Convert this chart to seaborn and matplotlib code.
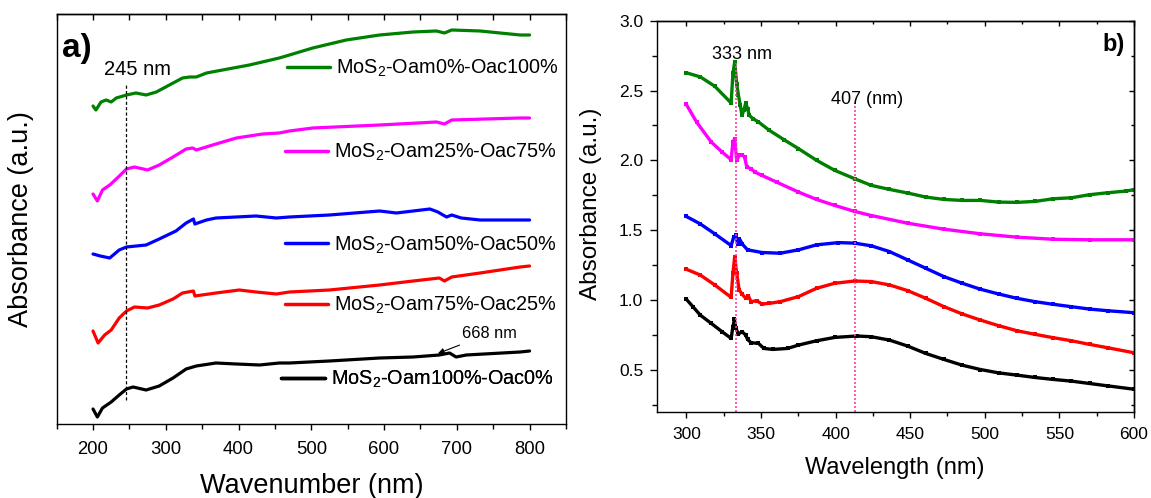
import numpy as np
import pandas as pd
import matplotlib
matplotlib.use("Agg")
import matplotlib.pyplot as plt
import seaborn as sns
from matplotlib.lines import Line2D
from matplotlib.ticker import MultipleLocator, FormatStrFormatter

# ---------------- data: panel a ----------------
a_labels = ["MoS$_2$-Oam0%-Oac100%", "MoS$_2$-Oam25%-Oac75%", "MoS$_2$-Oam50%-Oac50%",
            "MoS$_2$-Oam75%-Oac25%", "MoS$_2$-Oam100%-Oac0%"]
colors = ["#008000", "#FF00FF", "#0000FF", "#FF0000", "#000000"]

a_green_x = [200, 204, 211, 218, 225, 232, 246, 259, 273, 287, 305, 323, 333, 342, 356, 378, 415, 456, 470,
             502, 548, 594, 640, 672, 683, 693, 732, 787, 800]
a_green_y = [3.18, 3.14, 3.22, 3.24, 3.22, 3.26, 3.29, 3.31, 3.29, 3.32, 3.39, 3.46, 3.47, 3.47, 3.51, 3.54,
             3.59, 3.66, 3.69, 3.76, 3.84, 3.89, 3.92, 3.93, 3.91, 3.94, 3.93, 3.89, 3.89]
a_mag_x = [200, 206, 213, 223, 232, 246, 257, 275, 291, 310, 328, 337, 342, 369, 397, 433, 456, 470, 502,
           594, 672, 683, 693, 787, 800]
a_mag_y = [2.30, 2.23, 2.34, 2.39, 2.45, 2.55, 2.57, 2.54, 2.59, 2.67, 2.75, 2.76, 2.74, 2.80, 2.86, 2.90,
           2.91, 2.93, 2.96, 2.99, 3.02, 3.00, 3.04, 3.06, 3.06]
a_blue_x = [200, 210, 223, 236, 246, 273, 291, 314, 328, 338, 340, 356, 369, 397, 424, 452, 470, 525, 594,
            617, 663, 674, 681, 686, 693, 706, 732, 800]
a_blue_y = [1.70, 1.68, 1.66, 1.74, 1.77, 1.79, 1.85, 1.93, 2.01, 2.05, 2.00, 2.04, 2.06, 2.07, 2.08, 2.06,
            2.07, 2.09, 2.13, 2.11, 2.15, 2.12, 2.09, 2.07, 2.09, 2.06, 2.04, 2.04]
a_red_x = [200, 207, 216, 225, 236, 246, 257, 275, 291, 310, 323, 338, 340, 369, 401, 424, 452, 470, 525,
           594, 640, 676, 683, 693, 732, 787, 800]
a_red_y = [0.93, 0.81, 0.89, 0.94, 1.06, 1.13, 1.17, 1.16, 1.19, 1.25, 1.31, 1.33, 1.28, 1.31, 1.34, 1.32,
           1.30, 1.32, 1.34, 1.39, 1.43, 1.46, 1.43, 1.47, 1.51, 1.57, 1.58]
a_black_x = [200, 206, 213, 225, 236, 246, 255, 273, 291, 310, 328, 342, 369, 397, 429, 456, 470, 525, 594,
             640, 676, 690, 699, 713, 787, 800]
a_black_y = [0.15, 0.07, 0.16, 0.22, 0.29, 0.35, 0.37, 0.34, 0.38, 0.46, 0.55, 0.58, 0.61, 0.60, 0.59, 0.61,
             0.61, 0.63, 0.66, 0.67, 0.69, 0.71, 0.67, 0.69, 0.72, 0.73]

# ---------------- data: panel b ----------------
b_green_x = [300, 309.3, 319, 330, 331.2, 332.4, 333.7, 334.9, 336.1, 337.3, 338.5, 339.8, 341, 342.2, 344.6,
             348.3, 355.6, 365.4, 375.1, 387.3, 399.5, 412.9, 423.9, 436.1, 448.3, 460.5, 472.7, 484.9, 497.1,
             509.3, 521.5, 533.7, 545.9, 558.1, 570.2, 582.4, 594.6, 600]
b_green_y = [2.627, 2.598, 2.531, 2.411, 2.622, 2.706, 2.55, 2.467, 2.395, 2.323, 2.359, 2.411, 2.371, 2.323,
             2.299, 2.275, 2.215, 2.148, 2.084, 2.0, 1.928, 1.868, 1.821, 1.792, 1.766, 1.737, 1.72, 1.713,
             1.713, 1.701, 1.699, 1.706, 1.725, 1.732, 1.754, 1.768, 1.78, 1.79]
b_mag_x = [300, 306.8, 316.6, 323.9, 330, 331.2, 332.4, 333.7, 335.4, 337.3, 339, 340.5, 343.4, 345.9, 350.7,
           360.5, 375.1, 387.3, 399.5, 412.9, 423.9, 448.3, 472.7, 497.1, 521.5, 545.9, 570.2, 600]
b_mag_y = [2.40, 2.275, 2.132, 2.06, 2.005, 2.132, 2.156, 2.0, 2.036, 2.041, 2.024, 1.952, 1.94, 1.916, 1.892,
           1.844, 1.773, 1.72, 1.677, 1.634, 1.605, 1.55, 1.507, 1.474, 1.45, 1.435, 1.431, 1.431]
b_blue_x = [300, 309.3, 319, 330, 331.7, 333.2, 334.4, 335.6, 337.5, 341, 350.7, 362.9, 375.1, 387.3, 401.9,
            412.9, 423.9, 436.1, 448.3, 460.5, 472.7, 484.9, 497.1, 509.3, 521.5, 533.7, 545.9, 558.1, 570.2,
            582.4, 600]
b_blue_y = [1.598, 1.545, 1.474, 1.39, 1.45, 1.462, 1.40, 1.438, 1.40, 1.359, 1.34, 1.335, 1.359, 1.395, 1.411,
            1.407, 1.388, 1.347, 1.287, 1.227, 1.167, 1.12, 1.077, 1.043, 1.012, 0.988, 0.969, 0.952, 0.935,
            0.923, 0.909]
b_red_x = [300, 309.3, 319, 330, 331.2, 332.4, 333.7, 335.4, 337.3, 339.8, 341.5, 343.4, 347.1, 350.7, 355.6,
           362.9, 375.1, 387.3, 399.5, 412.9, 423.9, 436.1, 448.3, 460.5, 472.7, 484.9, 497.1, 509.3, 521.5,
           533.7, 545.9, 558.1, 570.2, 582.4, 600]
b_red_y = [1.22, 1.179, 1.108, 1.019, 1.191, 1.311, 1.191, 1.072, 1.043, 1.012, 1.029, 0.988, 0.995, 0.971,
           0.976, 0.988, 1.024, 1.084, 1.12, 1.136, 1.132, 1.108, 1.067, 1.012, 0.952, 0.90, 0.856, 0.816,
           0.78, 0.754, 0.73, 0.708, 0.682, 0.658, 0.622]
b_black_x = [300, 304.4, 309.3, 316.6, 323.9, 330, 331.2, 332.2, 333.2, 334.9, 337.3, 339.8, 341, 343.4, 348.3,
             352, 358, 367.8, 375.1, 387.3, 399.5, 414.1, 423.9, 436.1, 448.3, 460.5, 472.7, 484.9, 497.1,
             509.3, 521.5, 533.7, 545.9, 558.1, 570.2, 582.4, 600]
b_black_y = [1.005, 0.952, 0.892, 0.833, 0.773, 0.725, 0.809, 0.861, 0.797, 0.756, 0.773, 0.749, 0.718, 0.694,
             0.689, 0.653, 0.646, 0.653, 0.677, 0.708, 0.732, 0.742, 0.737, 0.713, 0.670, 0.617, 0.574, 0.533,
             0.502, 0.478, 0.462, 0.445, 0.431, 0.419, 0.402, 0.385, 0.361]

# ---------------- style ----------------
sns.set_theme(style="ticks")
plt.rcParams["font.family"] = ["Liberation Sans", "DejaVu Sans"]
plt.rcParams["mathtext.fontset"] = "custom"
plt.rcParams["mathtext.rm"] = "Liberation Sans"
plt.rcParams["mathtext.it"] = "Liberation Sans:italic"
plt.rcParams["mathtext.bf"] = "Liberation Sans:bold"
plt.rcParams["axes.linewidth"] = 1.0
plt.rcParams["axes.edgecolor"] = "black"
plt.rcParams["text.color"] = "black"
plt.rcParams["axes.labelcolor"] = "black"
plt.rcParams["xtick.color"] = "black"
plt.rcParams["ytick.color"] = "black"

fig = plt.figure(figsize=(11.51, 4.98), dpi=100)
ax1 = fig.add_axes([0.0492, 0.1486, 0.4425, 0.8233])
ax2 = fig.add_axes([0.5704, 0.1733, 0.4148, 0.7851])

# ---------------- panel a ----------------
a_series = [(a_green_x, a_green_y), (a_mag_x, a_mag_y), (a_blue_x, a_blue_y),
            (a_red_x, a_red_y), (a_black_x, a_black_y)]
for (xs, ys), c in zip(a_series, colors):
    sns.lineplot(x=xs, y=ys, ax=ax1, color=c, lw=2.3, sort=False)

ax1.set_xlim(150, 850)
ax1.set_ylim(0, 4.10)
ax1.set_yticks([])
ax1.xaxis.set_major_locator(MultipleLocator(100))
ax1.xaxis.set_minor_locator(MultipleLocator(50))
ax1.tick_params(axis="x", which="major", direction="out", length=4.3, width=1, labelsize=13.3, pad=8,
                bottom=True, top=False)
ax1.tick_params(axis="x", which="minor", direction="out", length=3.5, width=1, bottom=True, top=False)
for s in ax1.spines.values():
    s.set_visible(True)
    s.set_color("black")
sec1 = ax1.secondary_xaxis("top")
sec1.xaxis.set_major_locator(MultipleLocator(50))
sec1.tick_params(axis="x", which="major", direction="in", length=4.5, width=1, labeltop=False)
sec1.tick_params(axis="x", which="minor", length=0)

ax1.set_xlabel("Wavenumber (nm)", fontsize=19.5)
ax1.xaxis.set_label_coords(0.5, -0.1195)
ax1.xaxis.label.set_va("top")
ax1.set_ylabel("Absorbance (a.u.)", fontsize=19.5)
ax1.yaxis.set_label_coords(-0.044, 0.5)

ax1.vlines(246, 0.24, 3.39, colors="black", linestyles=(0, (2.5, 1.8)), lw=0.9)
ax1.text(215.7, 3.547, "245 nm", fontsize=14.5, ha="left", va="center")
ax1.annotate("668 nm", xy=(674, 0.705), xytext=(707.7, 0.907), fontsize=11.8, ha="left", va="center",
             arrowprops=dict(arrowstyle="-|>", color="black", lw=0.8, mutation_scale=9,
                             shrinkA=2, shrinkB=0))
ax1.text(0.01, 0.916, "a)", transform=ax1.transAxes, fontsize=24, fontweight="bold", ha="left", va="center")

leg_pos = [(0.4517, 0.867), (0.448, 0.662), (0.448, 0.4366), (0.448, 0.2885), (0.4415, 0.1085)]
for lab, c, (hx, hy) in zip(a_labels, colors, leg_pos):
    h = Line2D([], [], color=c, lw=2.5)
    leg = ax1.legend([h], [lab], loc="center left", bbox_to_anchor=(hx, hy), frameon=False, fontsize=14.3,
                     handlelength=2.2, handletextpad=0.3, borderpad=0, borderaxespad=0)
    ax1.add_artist(leg)

# ---------------- panel b ----------------
b_series = [(b_green_x, b_green_y), (b_mag_x, b_mag_y), (b_blue_x, b_blue_y),
            (b_red_x, b_red_y), (b_black_x, b_black_y)]
for (xs, ys), c in zip(b_series, colors):
    sns.lineplot(x=xs, y=ys, ax=ax2, color=c, lw=2.4, sort=False, marker="s", markersize=3.4,
                 markeredgewidth=0, markerfacecolor=c)

ax2.vlines([333.2], 0.2, 2.70, colors="#FF40A8", linestyles=(0, (1.2, 1.2)), lw=1.2)
ax2.vlines([413.0], 0.2, 2.41, colors="#FF40A8", linestyles=(0, (1.2, 1.2)), lw=1.2)
ax2.text(317, 2.761, "333 nm", fontsize=13, ha="left", va="center")
ax2.text(397.1, 2.435, "407 (nm)", fontsize=13, ha="left", va="center")
ax2.text(0.957, 0.938, "b)", transform=ax2.transAxes, fontsize=17, fontweight="bold", ha="center", va="center")

ax2.set_xlim(280, 600)
ax2.set_ylim(0.2, 3.0)
ax2.xaxis.set_major_locator(MultipleLocator(50))
ax2.xaxis.set_minor_locator(MultipleLocator(25))
ax2.yaxis.set_major_locator(MultipleLocator(0.5))
ax2.yaxis.set_minor_locator(MultipleLocator(0.25))
ax2.tick_params(axis="x", which="major", direction="out", length=4, width=1, labelsize=12.5, pad=7,
                bottom=True, top=False)
ax2.tick_params(axis="x", which="minor", direction="out", length=2.6, width=1, bottom=True, top=False)
ax2.tick_params(axis="y", which="major", direction="out", length=5.2, width=1, labelsize=12.5, pad=4.3,
                left=True, right=False)
ax2.tick_params(axis="y", which="minor", direction="out", length=3.5, width=1, left=True, right=False)
ax2.yaxis.set_major_formatter(FormatStrFormatter("%.1f"))
for s in ax2.spines.values():
    s.set_visible(True)
    s.set_color("black")
sec2x = ax2.secondary_xaxis("top")
sec2x.xaxis.set_major_locator(MultipleLocator(50))
sec2x.xaxis.set_minor_locator(MultipleLocator(25))
sec2x.tick_params(axis="x", which="major", direction="in", length=3.8, width=1, labeltop=False)
sec2x.tick_params(axis="x", which="minor", direction="in", length=2.4, width=1)
sec2y = ax2.secondary_yaxis("right")
sec2y.yaxis.set_major_locator(MultipleLocator(0.5))
sec2y.yaxis.set_minor_locator(MultipleLocator(0.25))
sec2y.tick_params(axis="y", which="major", direction="in", length=3.8, width=1, labelright=False)
sec2y.tick_params(axis="y", which="minor", direction="in", length=2.4, width=1)

ax2.set_xlabel("Wavelength (nm)", fontsize=17)
ax2.xaxis.set_label_coords(0.5, -0.116)
ax2.xaxis.label.set_va("top")
ax2.set_ylabel("Absorbance (a.u.)", fontsize=17.5)
ax2.yaxis.set_label_coords(-0.114, 0.531)

fig.savefig("out.png", dpi=100)
